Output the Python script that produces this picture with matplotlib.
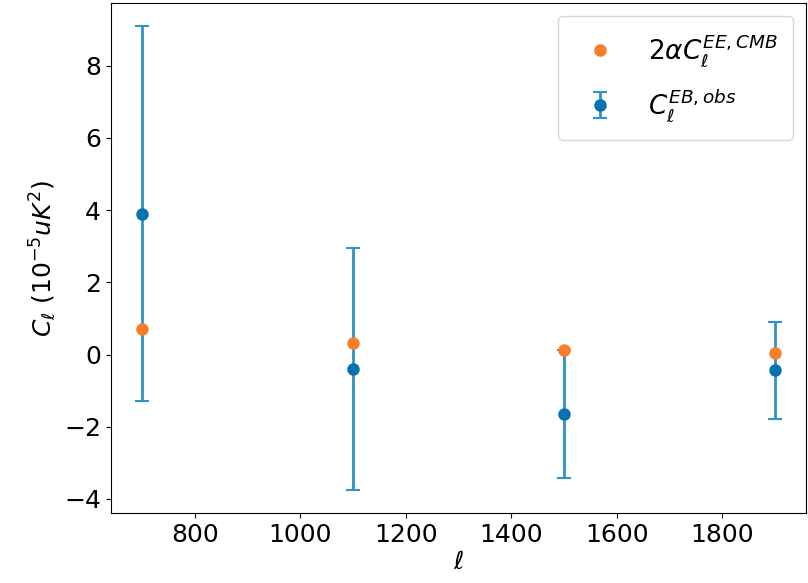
import matplotlib
matplotlib.use("Agg")
import matplotlib.pyplot as plt
import numpy as np

ell = np.array([700, 1100, 1500, 1900])
cl_eb_obs = np.array([3.9, -0.4, -1.65, -0.44])
cl_eb_err = np.array([5.2, 3.35, 1.78, 1.35])
cl_ee_rot = np.array([0.7, 0.33, 0.12, 0.05])

fig = plt.figure(figsize=(8.08, 5.83), dpi=100)
ax = fig.add_axes([0.137, 0.12, 0.861, 0.875])

ax.errorbar(ell, cl_eb_obs, yerr=cl_eb_err, fmt='o', color='#0672b0',
            ecolor='#2e93c6', elinewidth=2, capsize=5, capthick=1.5,
            markersize=8, label=r'$C_\ell^{EB,obs}$')
ax.plot(ell, cl_ee_rot, 'o', color='#fa7d2a', markersize=8,
        label=r'$2\alpha C_\ell^{EE,CMB}$')

ax.set_xticks([800, 1000, 1200, 1400, 1600, 1800])
ax.tick_params(labelsize=18)
ax.set_xlabel(r'$\ell$', fontsize=18, labelpad=2)
ax.set_ylabel(r'$C_\ell\ (10^{-5}uK^2)$', fontsize=18)
ax.legend(fontsize=19, loc='upper right', borderpad=0.6, labelspacing=0.7)

plt.savefig('out.png')
